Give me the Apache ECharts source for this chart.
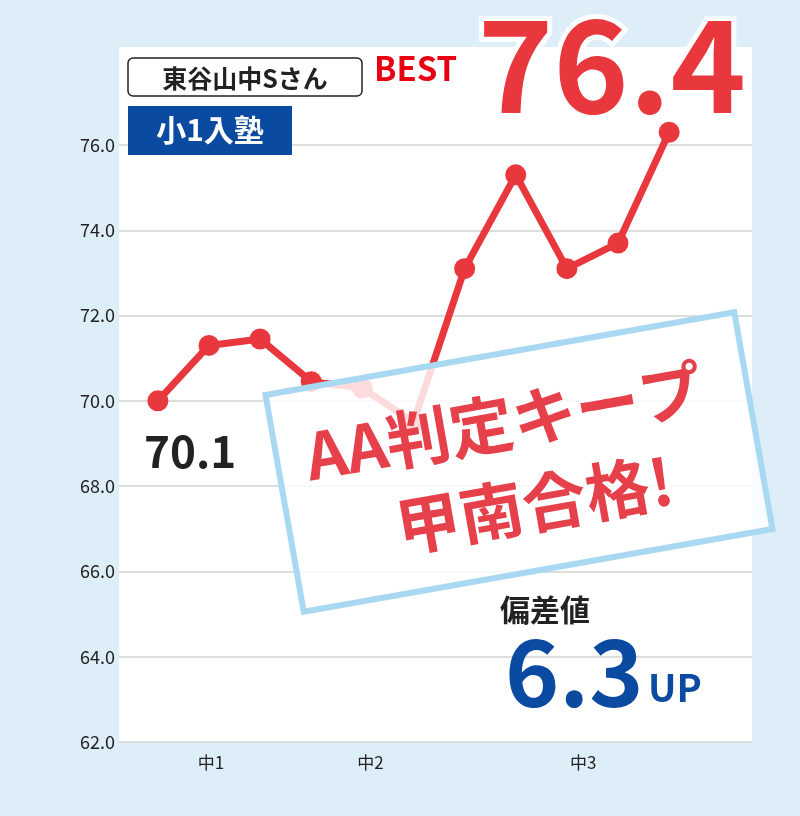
<!DOCTYPE html>
<html>
<head>
<meta charset="utf-8">
<script src="https://cdn.jsdelivr.net/npm/echarts@6/dist/echarts.min.js"></script>
<style>
  html, body { margin: 0; padding: 0; background: #ddeef9; }
  #paper { position: absolute; left: 119px; top: 47px; width: 633px; height: 695px; background: #fff; }
  #main { position: absolute; left: 0; top: 0; width: 800px; height: 816px; }
</style>
</head>
<body>
<div id="paper"></div>
<div id="main"></div>
<script>
// test scores (偏差値), one per exam, in order
var scores = [70.0, 71.3, 71.45, 70.45, 70.3, 69.5, 73.1, 75.3, 73.1, 73.7, 76.3];
var termLabels = ['中1', '中2', '中3'];
var termPositions = [1.04, 4.16, 8.32];
var yTicks = [62, 64, 66, 68, 70, 72, 74, 76];

var red = '#e8383d';
var font = '"Noto Sans CJK JP", "Noto Sans", sans-serif';

var chart = echarts.init(document.getElementById('main'));

var points = scores.map(function (v, i) { return [i, v]; });

chart.setOption({
    backgroundColor: 'transparent',
    animation: false,
    grid: { left: 119, right: 48, top: 145, bottom: 74 },
    xAxis: {
        type: 'value',
        min: -0.76,
        max: 11.62,
        axisLine: { show: false },
        axisTick: { show: false },
        splitLine: { show: false },
        axisLabel: {
            customValues: termPositions,
            formatter: function (v) {
                var k = termPositions.indexOf(v);
                return k >= 0 ? termLabels[k] : '';
            },
            color: '#222', fontSize: 17, fontFamily: font, margin: 12
        }
    },
    yAxis: {
        type: 'value',
        min: yTicks[0],
        max: yTicks[yTicks.length - 1],
        interval: 2,
        axisLine: { show: false },
        axisTick: { show: false },
        splitLine: { lineStyle: { color: '#dddddd', width: 2 } },
        axisLabel: {
            formatter: function (v) { return v.toFixed(1); },
            color: '#222', fontSize: 18, fontFamily: font, margin: 4
        }
    },
    series: [{
        type: 'line',
        data: points,
        clip: false,
        symbol: 'circle',
        symbolSize: 21,
        itemStyle: { color: red },
        lineStyle: { color: red, width: 7 },
        z: 2
    }],
    graphic: [
        {
            type: 'rect', z: 10,
            shape: { x: 128, y: 58, width: 234, height: 38, r: 5 },
            style: { fill: '#fff', stroke: '#222', lineWidth: 1.5 }
        },
        {
            type: 'text', z: 11,
            style: { x: 245, y: 78, text: '東谷山中Sさん', textAlign: 'center', textVerticalAlign: 'middle',
                fill: '#222', font: 'bold 25px ' + font }
        },
        {
            type: 'text', z: 11,
            style: { x: 374, y: 68, text: 'BEST', textAlign: 'left', textVerticalAlign: 'middle',
                fill: '#e60012', font: 'bold 33px ' + font }
        },
        {
            type: 'rect', z: 10,
            shape: { x: 128, y: 106, width: 164, height: 49 },
            style: { fill: '#0a4aa0' }
        },
        {
            type: 'text', z: 11,
            style: { x: 210, y: 130, text: '小1入塾', textAlign: 'center', textVerticalAlign: 'middle',
                fill: '#fff', font: 'bold 30px ' + font }
        },
        {
            type: 'text', z: 12,
            style: { x: 746, y: 64, text: '76.4', textAlign: 'right', textVerticalAlign: 'middle',
                fill: red, stroke: '#fff', lineWidth: 10, font: 'bold 128px ' + font }
        },
        {
            type: 'text', z: 11,
            style: { x: 144, y: 451, text: '70.1', textAlign: 'left', textVerticalAlign: 'middle',
                fill: '#222', font: 'bold 44px ' + font }
        },
        {
            type: 'group', z: 20,
            x: 519, y: 462, rotation: 10 * Math.PI / 180,
            children: [
                {
                    type: 'rect', z: 20,
                    shape: { x: -238, y: -110, width: 476, height: 220 },
                    style: { fill: 'rgba(255,255,255,0.82)', stroke: '#a9d8f2', lineWidth: 6 }
                },
                {
                    type: 'text', z: 21,
                    style: { x: -8, y: -42, text: 'AA判定キープ', textAlign: 'center', textVerticalAlign: 'middle',
                        fill: '#e6404b', font: 'bold 64px ' + font }
                },
                {
                    type: 'text', z: 21,
                    style: { x: 8, y: 44, text: '甲南合格!', textAlign: 'center', textVerticalAlign: 'middle',
                        fill: '#e6404b', font: 'bold 64px ' + font }
                }
            ]
        },
        {
            type: 'text', z: 11,
            style: { x: 500, y: 610, text: '偏差値', textAlign: 'left', textVerticalAlign: 'middle',
                fill: '#222', font: 'bold 30px ' + font }
        },
        {
            type: 'text', z: 11,
            style: { x: 505, y: 672, text: '6.3', textAlign: 'left', textVerticalAlign: 'middle',
                fill: '#0a4aa0', font: 'bold 92px ' + font }
        },
        {
            type: 'text', z: 11,
            style: { x: 648, y: 688, text: 'UP', textAlign: 'left', textVerticalAlign: 'middle',
                fill: '#0a4aa0', font: 'bold 38px ' + font }
        }
    ]
});
</script>
</body>
</html>
